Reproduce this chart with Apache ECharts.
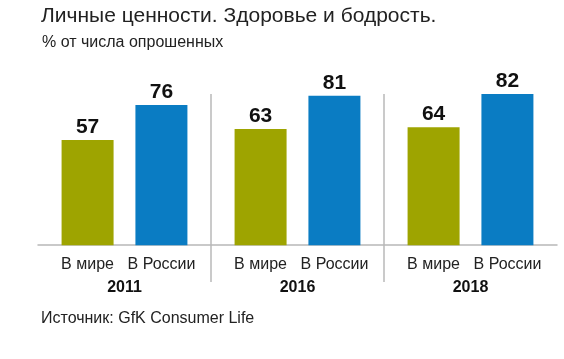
<!DOCTYPE html>
<html>
<head>
<meta charset="utf-8">
<script src="https://cdn.jsdelivr.net/npm/echarts@6/dist/echarts.min.js"></script>
<style>
html,body{margin:0;padding:0;background:#fff;}
#chart{width:564px;height:359px;}
</style>
</head>
<body>
<div id="chart"></div>
<script>
var years = ['2011', '2016', '2018'];
var seriesNames = ['В мире', 'В России'];
var worldValues = [57, 63, 64];
var russiaValues = [76, 81, 82];
var titleText = 'Личные ценности. Здоровье и бодрость.';
var subtitleText = '% от числа опрошенных';
var sourceText = 'Источник: GfK Consumer Life';

var font = '"Liberation Sans", Arial, sans-serif';
var chart = echarts.init(document.getElementById('chart'));
chart.setOption({
  backgroundColor: '#fff',
  animation: false,
  title: [
    { text: titleText, left: 41, top: 6, padding: 0,
      textStyle: { fontFamily: font, fontSize: 21, fontWeight: 'normal', color: '#222' } },
    { text: subtitleText, left: 42, top: 35, padding: 0,
      textStyle: { fontFamily: font, fontSize: 16, fontWeight: 'normal', color: '#222' } },
    { text: sourceText, left: 41, top: 311, padding: 0,
      textStyle: { fontFamily: font, fontSize: 16, fontWeight: 'normal', color: '#222' } }
  ],
  grid: { left: 38, right: 7, top: 94, bottom: 77, containLabel: false },
  xAxis: {
    type: 'category',
    data: years,
    axisLine: { show: true, onZero: true, lineStyle: { color: '#b8b8b8', width: 1.5 } },
    axisTick: { show: false },
    splitLine: { show: true, lineStyle: { color: ['rgba(0,0,0,0)', '#b8b8b8', '#b8b8b8', 'rgba(0,0,0,0)'], width: 1.5 } },
    axisLabel: {
      margin: -28,
      formatter: function (v) {
        return '{a|' + seriesNames[0] + '}{b|' + seriesNames[1] + '}\n{y|' + v + '}';
      },
      rich: {
        a: { width: 74, align: 'center', fontFamily: font, fontSize: 16, color: '#222', lineHeight: 22 },
        b: { width: 74, align: 'center', fontFamily: font, fontSize: 16, color: '#222', lineHeight: 22 },
        y: { align: 'center', fontFamily: font, fontSize: 16, fontWeight: 'bold', color: '#111', lineHeight: 24 }
      }
    }
  },
  yAxis: {
    type: 'value', min: -20, max: 82, show: false,
    splitLine: { show: false }
  },
  series: [
    {
      name: seriesNames[0], type: 'bar', data: worldValues,
      barWidth: 52, barGap: '42%', clip: false,
      itemStyle: { color: '#9ea400' },
      label: { show: true, position: 'top', distance: 2, fontFamily: font, fontSize: 21, fontWeight: 'bold', color: '#111' }
    },
    {
      name: seriesNames[1], type: 'bar', data: russiaValues,
      barWidth: 52, clip: false,
      itemStyle: { color: '#0a7cc3' },
      label: { show: true, position: 'top', distance: 2, fontFamily: font, fontSize: 21, fontWeight: 'bold', color: '#111' }
    }
  ]
});
</script>
</body>
</html>
